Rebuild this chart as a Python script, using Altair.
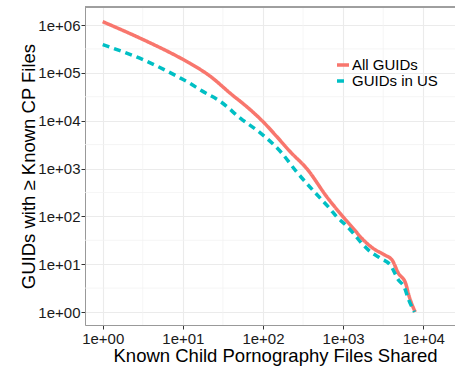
import altair as alt
import pandas as pd

# ---- data ----
all_x = [1, 3.24, 9.33, 12.3, 21.9, 38.9, 69.2, 100, 148, 219, 355, 631, 1000,
         1334, 1778, 2371, 3311, 4074, 4898, 6026, 6607, 7943]
all_y = [1175000, 490000, 204000, 158000, 85100, 37600, 17000, 9550, 4680, 2240,
         977, 251, 97.7, 56.2, 32.4, 21.4, 15.5, 12.3, 6.46, 3.98, 2.24, 1]

us_x = [1, 3.24, 9.33, 12.3, 16.6, 29.5, 52.5, 93.3, 166, 263, 525, 676, 832,
        1072, 1334, 1698, 2188, 2951, 3890, 4898, 5754, 6607, 7762]
us_y = [389000, 186000, 77600, 60300, 43700, 25100, 11200, 5500, 2240, 851, 234,
        148, 97.7, 66.1, 44.7, 27.5, 18.2, 13.2, 9.55, 4.68, 3.39, 1.78, 1]

series_names = ["All GUIDs", "GUIDs in US"]
series_colors = ["#F8766D", "#00BFC4"]

x_ticks = [1, 10, 100, 1000, 10000]
x_tick_labels = ["1e+00", "1e+01", "1e+02", "1e+03", "1e+04"]
y_ticks = [1, 10, 100, 1000, 10000, 100000, 1000000]
y_tick_labels = ["1e+00", "1e+01", "1e+02", "1e+03", "1e+04", "1e+05", "1e+06"]
x_minor = [3.1623, 31.623, 316.23, 3162.3]
y_minor = [3.1623, 31.623, 316.23, 3162.3, 31623, 316230]

x_domain = [0.601, 24900]
y_domain = [0.535, 2380000]

x_title = "Known Child Pornography Files Shared"
y_title = "GUIDs with \u2265 Known CP Files"

# ---- tables ----
df = pd.concat([
    pd.DataFrame({"x": all_x, "y": all_y, "series": series_names[0]}),
    pd.DataFrame({"x": us_x, "y": us_y, "series": series_names[1]}),
])
xm = pd.DataFrame({"x": x_minor})
ym = pd.DataFrame({"y": y_minor})


def label_expr(vals, labs):
    expr = "''"
    for v, l in zip(reversed(vals), reversed(labs)):
        expr = f"(datum.value == {v} ? '{l}' : {expr})"
    return expr


W, H = 370, 318
FONT = "Liberation Sans"

xscale = alt.Scale(type="log", domain=x_domain, nice=False)
yscale = alt.Scale(type="log", domain=y_domain, nice=False)

x_axis = alt.Axis(values=x_ticks,
                  labelExpr=label_expr(x_ticks, x_tick_labels),
                  title=x_title, titleX=190, titleY=36.5,
                  titleAlign="center", titleBaseline="alphabetic",
                  grid=True, gridColor="#EBEBEB", gridWidth=1.1,
                  domainColor="#999999", tickColor="#333333",
                  tickSize=4, labelPadding=2, labelFontSize=15,
                  labelFont=FONT, labelColor="#1a1a1a",
                  titleFontSize=18.5, titleFont=FONT,
                  titleFontWeight="normal", titleColor="#000000",
                  labelFlush=False)
y_axis = alt.Axis(values=y_ticks,
                  labelExpr=label_expr(y_ticks, y_tick_labels),
                  title=y_title, titleX=-57, titleY=159,
                  titleAlign="center", titleBaseline="middle",
                  titleAngle=270,
                  grid=True, gridColor="#EBEBEB", gridWidth=1.1,
                  domainColor="#999999", tickColor="#333333",
                  tickSize=4, labelPadding=1, labelFontSize=15,
                  labelFont=FONT, labelColor="#1a1a1a",
                  titleFontSize=18.5, titleFont=FONT,
                  titleFontWeight="normal", titleColor="#000000",
                  labelFlush=False)

minor_x = alt.Chart(xm).mark_rule(color="#F3F3F3", strokeWidth=0.8).encode(
    x=alt.X("x:Q", scale=xscale, axis=x_axis)
)
minor_y = alt.Chart(ym).mark_rule(color="#F3F3F3", strokeWidth=0.8).encode(
    y=alt.Y("y:Q", scale=yscale, axis=y_axis)
)
top_border = alt.Chart(xm).mark_rule(color="#999999", strokeWidth=1).encode(
    x=alt.value(0), x2=alt.value(W), y=alt.value(0)
)

legend = alt.Legend(title=None, orient="none", legendX=250, legendY=50,
                    symbolType="stroke", symbolSize=144, symbolStrokeWidth=3.5,
                    labelFontSize=15, labelFont=FONT, labelColor="#000000",
                    labelOffset=1, rowPadding=0, padding=0)

color_enc = alt.Color("series:N",
                      scale=alt.Scale(domain=series_names, range=series_colors),
                      legend=legend)
dash_enc = alt.StrokeDash("series:N",
                          scale=alt.Scale(domain=series_names,
                                          range=[[1, 0], [7, 5]]),
                          legend=legend)

base = alt.Chart(df).mark_line(strokeWidth=3.5, clip=True,
                               interpolate="monotone").encode(
    x=alt.X("x:Q", scale=xscale, axis=x_axis),
    y=alt.Y("y:Q", scale=yscale, axis=y_axis),
    color=color_enc, strokeDash=dash_enc
)
line_all = base.transform_filter(alt.datum.series == series_names[0])
line_us = base.transform_filter(alt.datum.series == series_names[1])

chart = alt.layer(minor_x, minor_y, top_border, line_all, line_us).properties(
    width=W, height=H,
    autosize=alt.AutoSizeParams(type="none"),
    padding={"left": 85, "top": 7, "right": 0, "bottom": 41},
).configure_view(stroke=None).configure(background="white")

chart.save("out.html", embed_options={"renderer": "svg", "actions": False})
